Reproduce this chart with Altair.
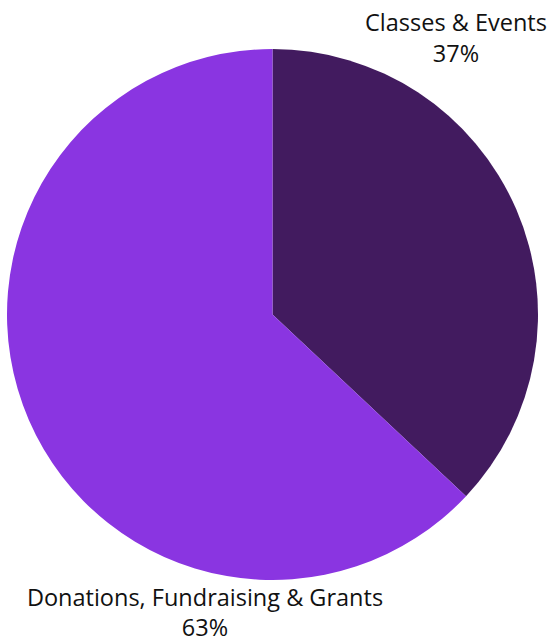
import altair as alt
import pandas as pd

categories = ["Classes & Events", "Donations, Fundraising & Grants"]
values = [37, 63]
colors = ["#421b5f", "#8a35e1"]

df = pd.DataFrame({"category": categories, "value": values, "order": [0, 1]})
df["pct"] = df["value"].astype(str) + "%"

base = alt.Chart(df)

pie = base.mark_arc(outerRadius=265.5, stroke=None).encode(
    theta=alt.Theta("value:Q", stack=True),
    color=alt.Color("category:N", scale=alt.Scale(domain=categories, range=colors), legend=None),
    order=alt.Order("order:Q"),
    x=alt.value(272.5),
    y=alt.value(314.5),
)

FONT = "Open Sans"
SIZE = 23.5

def label(cat, x, y, dy):
    name = base.transform_filter(alt.datum.category == cat).mark_text(
        font=FONT, fontSize=SIZE, color="#111111", align="center", baseline="alphabetic"
    ).encode(text="category:N", x=alt.value(x), y=alt.value(y))
    pct = base.transform_filter(alt.datum.category == cat).mark_text(
        font=FONT, fontSize=SIZE, color="#111111", align="center", baseline="alphabetic"
    ).encode(text="pct:N", x=alt.value(x), y=alt.value(y + dy))
    return name + pct

chart = alt.layer(
    pie,
    label(categories[0], 456, 31, 31),
    label(categories[1], 205, 606, 30),
).properties(
    width=554, height=641, autosize=alt.AutoSizeParams(type="none"), padding=0
).configure_view(stroke=None)

chart.save("out.html", embed_options={"renderer": "svg", "actions": False})
